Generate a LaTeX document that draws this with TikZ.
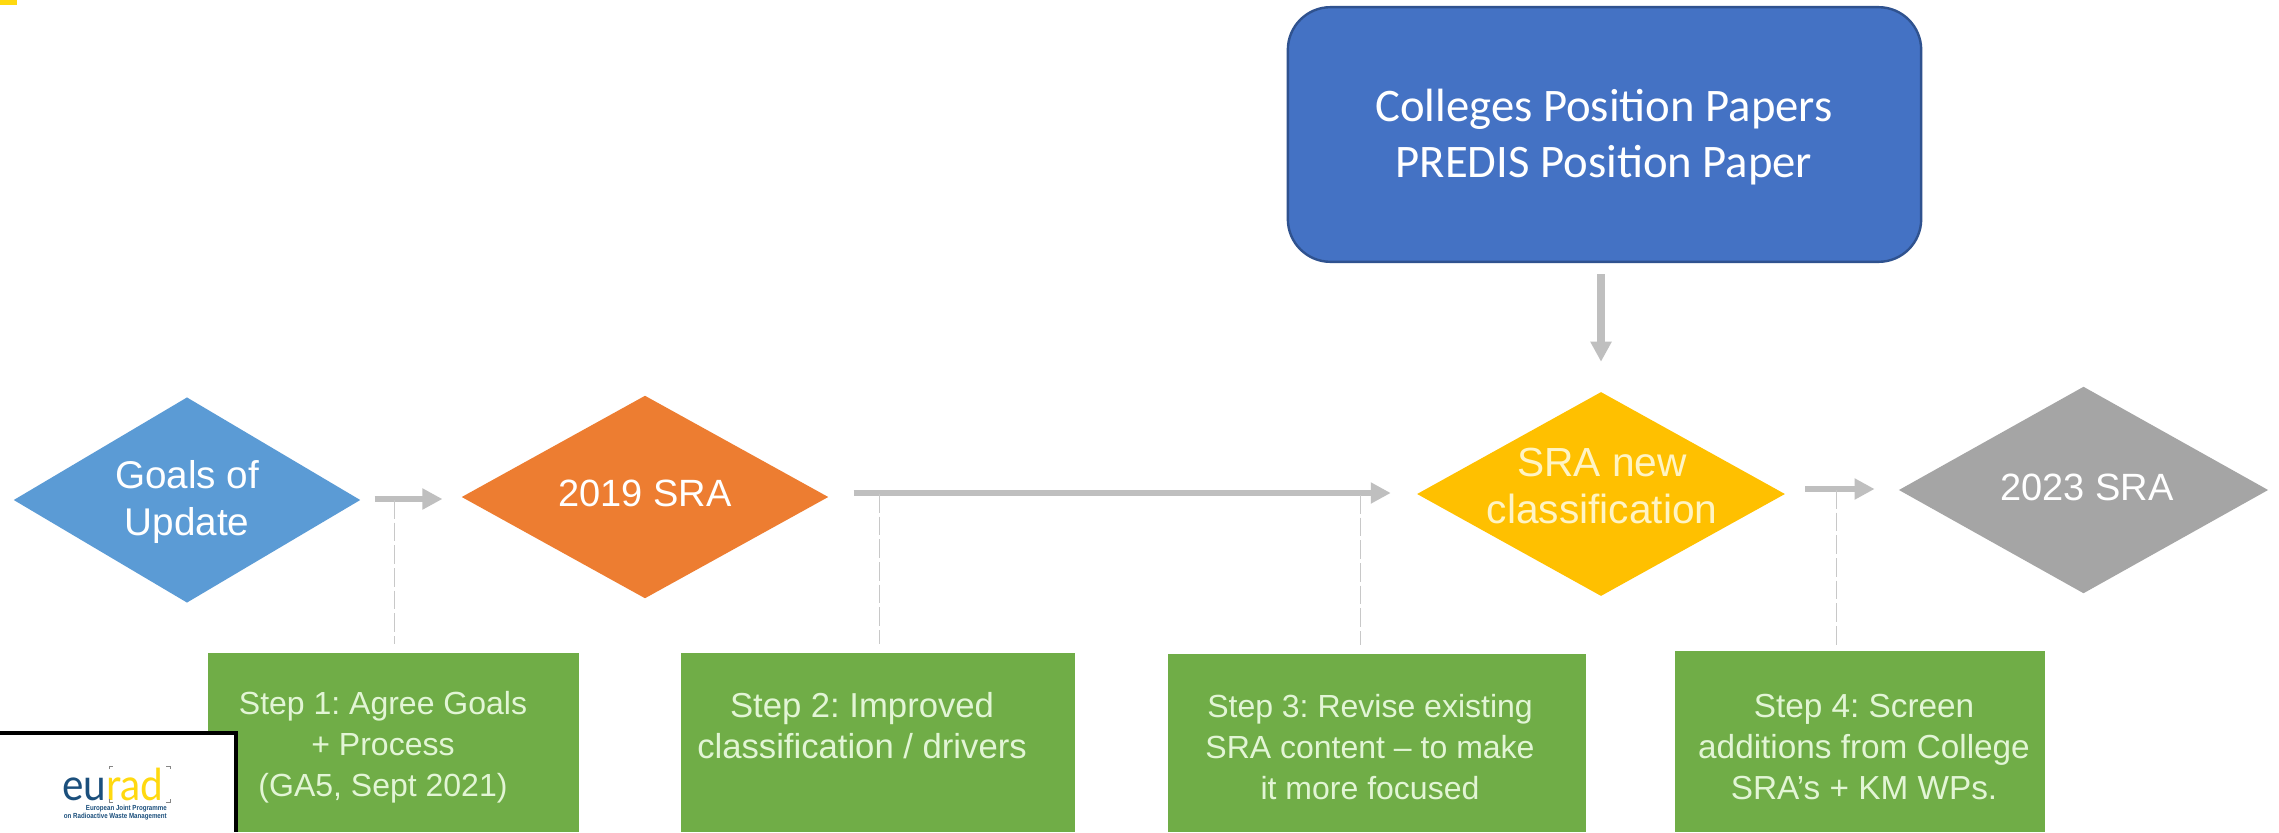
\documentclass[tikz,border=0pt]{standalone}
\usepackage{fontspec}
\setmainfont{Liberation Sans}
\newfontfamily\cond[FakeStretch=0.84]{Liberation Sans}
\newfontfamily\calib{Carlito}
\newfontfamily\logof[FakeStretch=0.92]{Lato}
\usetikzlibrary{shapes.geometric,arrows.meta,calc}
\definecolor{cblue}{HTML}{5B9BD5}
\definecolor{corange}{HTML}{ED7D31}
\definecolor{cyellow}{HTML}{FFC000}
\definecolor{cgray}{HTML}{A5A5A5}
\definecolor{cgreen}{HTML}{70AD47}
\definecolor{cbox}{HTML}{4472C4}
\definecolor{cboxb}{HTML}{2F528F}
\definecolor{carrow}{HTML}{BFBFBF}
\definecolor{cguide}{HTML}{C8C8C8}
\definecolor{ctext}{HTML}{E2F5D5}
\definecolor{cytext}{HTML}{FFF4C4}
\definecolor{ceu}{HTML}{1B4F7C}
\definecolor{crad}{HTML}{FFD90F}
\tikzset{
  dia/.style={shape=diamond,fill=#1,draw=none,inner sep=0pt},
  lab/.style={text=white,font=\fontsize{#1}{35}\selectfont\frenchspacing,align=center,inner sep=0pt},
  greenbox/.style={fill=cgreen,draw=none,inner sep=0pt,anchor=north west},
  steptext/.style={text=ctext,font=\fontsize{#1}{30.7}\selectfont\frenchspacing,align=center,inner sep=0pt},
  arr/.style={draw=carrow,line width=4.8pt,-{Triangle[width=15pt,length=15pt]}},
  guide/.style={draw=cguide,line width=0.7pt,dash pattern=on 14pt off 3pt},
}
\begin{document}
\begin{tikzpicture}[x=0.75pt,y=-0.75pt]
\useasboundingbox (0,0) rectangle (2279,832);
\fill[white] (0,0) rectangle (2279,832);
\fill[crad] (0,0) rectangle (17,5);
% diamonds
\node[dia=cblue,minimum width=260pt,minimum height=154pt] (goals) at (187,500) {};
\node[dia=corange,minimum width=275pt,minimum height=152pt] (sra19) at (645,497) {};
\node[dia=cyellow,minimum width=276pt,minimum height=153pt] (sranew) at (1601,494) {};
\node[dia=cgray,minimum width=277pt,minimum height=155pt] (sra23) at (2083.5,490) {};
\node[lab=29] (goalsl) at (187,502) {Goals of\\Update};
\node[lab=28.5] (sra19l) at (645,493) {2019 SRA};
\node[lab=30.5,text=cytext] (sranewl) at (1602,486) {SRA new\\classification};
\node[lab=28.5] (sra23l) at (2087,487) {2023 SRA};
% top box
\node[fill=cbox,draw=cboxb,line width=1.8pt,rounded corners=32pt,minimum width=475pt,minimum height=191pt] (papers) at (1604.5,134.5) {};
\node[text=white,font=\calib\fontsize{35}{41.5}\selectfont,align=center,inner sep=0pt] (papersl) at (1604,137)
  {Colleges Position Papers\\PREDIS Position Paper};
% green boxes
\node[greenbox,minimum width=278pt,minimum height=134pt] (step1) at (208,653) {};
\node[greenbox,minimum width=295pt,minimum height=134pt] (step2) at (681,653) {};
\node[greenbox,minimum width=313.5pt,minimum height=133.5pt] (step3) at (1168,654) {};
\node[greenbox,minimum width=277.5pt,minimum height=135.7pt] (step4) at (1675,651) {};
\node[steptext=24] (step1l) at (383,747) {Step 1: Agree Goals\\+ Process\\(GA5, Sept 2021)};
\node[steptext=26] (step2l) at (862,726) {Step 2: Improved\\classification / drivers};
\node[steptext=24] (step3l) at (1370,747) {Step 3: Revise existing\\SRA content – to make\\it more focused};
\node[steptext=25] (step4l) at (1864,747) {Step 4: Screen\\additions from College\\SRA's + KM WPs.};
% arrows
\draw[arr] ($(goals.east)+(14,-1)$) -- ($(sra19.west)+(-19,2)$);
\draw[arr] ($(sra19.east)+(25,-4)$) -- ($(sranew.west)+(-26,-1)$);
\draw[arr] ($(sranew.east)+(20,-5)$) -- ($(sra23.west)+(-24,-1)$);
\draw[arr,line width=5.5pt] ($(papers.south)+(-3.5,11)$) -- ($(sranew.north)+(0,-30)$);
% guides
\coordinate (g1) at (394,500);
\coordinate (g2) at (879,494);
\coordinate (g3) at (1360,495);
\coordinate (g4) at (1836,490);
\draw[guide] (g1) -- ($(g1 |- step1.north)+(0,-9)$);
\draw[guide] (g2) -- ($(g2 |- step2.north)+(0,-9)$);
\draw[guide] (g3) -- ($(g3 |- step3.north)+(0,-9)$);
\draw[guide] (g4) -- ($(g4 |- step4.north)+(0,-5)$);
% logo panel
\fill[white] (0,733) rectangle (236,832);
\draw[black,line width=2.4pt] (0,733) -- (236,733) -- (236,832);
\node[inner sep=0pt,anchor=base west,font=\logof\fontsize{33}{33}\selectfont,text=ceu] (logo) at (62,800)
  {eu\textcolor{crad}{rad}};
\draw[carrow!70!black,line width=0.5pt] (109,769) |- (113,766) (166,766) -| (170,769) (109,799) |- (113,802) (166,802) -| (170,799);
\node[inner sep=0pt,anchor=east,font=\cond\bfseries\fontsize{5.5}{6}\selectfont,text=ceu,align=right] (logot) at (167,813)
  {European Joint Programme\\on Radioactive Waste Management};
\end{tikzpicture}
\end{document}
